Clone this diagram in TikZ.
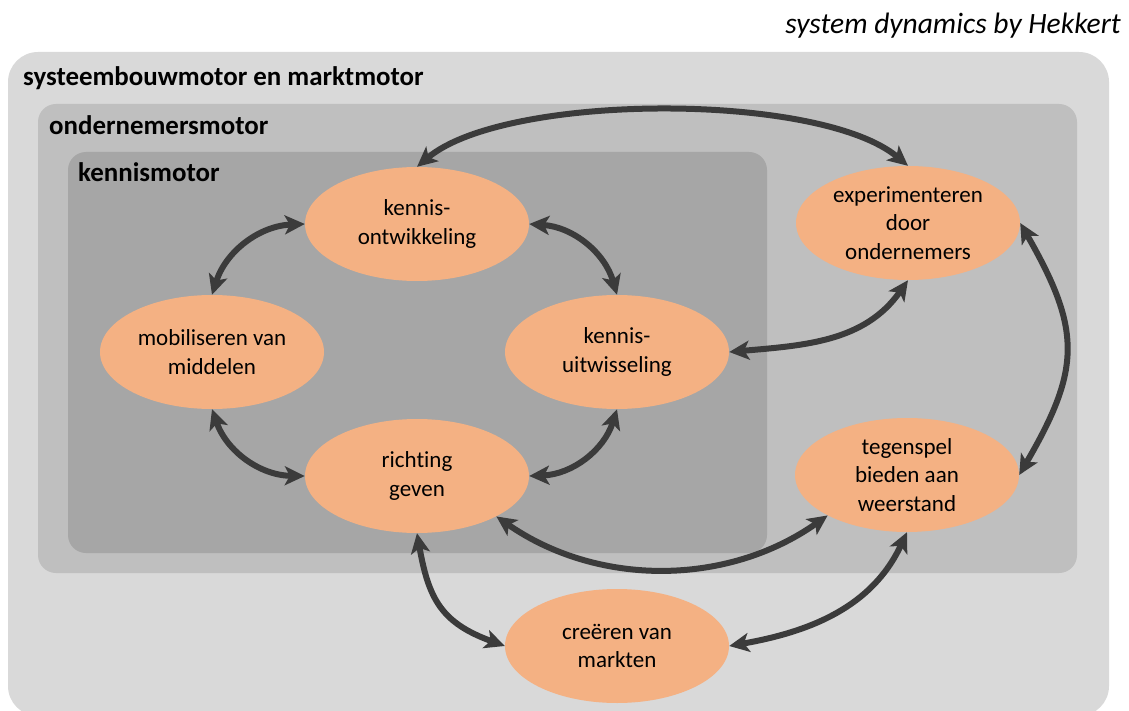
\documentclass[tikz,border=0pt]{standalone}
\usepackage{fontspec}
\setmainfont{Carlito}[Ligatures=NoCommon]
\usetikzlibrary{arrows.meta,shapes.geometric}

\definecolor{buiten}{HTML}{D9D9D9}
\definecolor{midden}{HTML}{BFBFBF}
\definecolor{binnen}{HTML}{A6A6A6}
\definecolor{oranje}{HTML}{F4B183}
\definecolor{pijlgrijs}{HTML}{3B3B3B}

\tikzset{
  functie/.style={ellipse,fill=oranje,minimum width=224pt,minimum height=114pt,inner sep=0pt,align=center,font=\fontsize{23}{28.5}\selectfont},
  koppeling/.style={draw=pijlgrijs,line width=6pt,>={Stealth[length=20pt,width=19pt,inset=5pt]},<->},
  motorlabel/.style={anchor=base west,inner sep=0pt,font=\fontsize{26.9}{30}\selectfont\bfseries}
}

\begin{document}
\begin{tikzpicture}[x=1pt,y=-1pt]
\useasboundingbox (0,0) rectangle (1129,711);

\fill[buiten,rounded corners=30pt] (8,52) rectangle (1109,716);
\fill[midden,rounded corners=18pt] (38,104) rectangle (1077,573);
\fill[binnen,rounded corners=18pt] (68,152) rectangle (767,553);

\node[motorlabel] (lsys) at (23,86) {systeembouwmotor en marktmotor};
\node[motorlabel] (lond) at (49,135) {ondernemersmotor};
\node[motorlabel] (lken) at (78,182) {kennismotor};
\node[anchor=base east,inner sep=0pt,font=\fontsize{29.5}{32}\selectfont\itshape] (titel) at (1121,34) {system dynamics by Hekkert};

\foreach \naam/\x/\y/\tekst in {ko/417/224/{kennis-\\ontwikkeling},
    mob/212/352/{mobiliseren van\\middelen},
    uitw/617/352/{kennis-\\uitwisseling},
    rg/417/476/{richting\\geven},
    exp/908/223/{experimenteren\\door\\ondernemers},
    tegen/907/475/{tegenspel\\bieden aan\\weerstand},
    cre/617/646/{creëren van\\markten}}
  \node[functie] (\naam) at (\x,\y) {\tekst};

\draw[koppeling] (mob.north) to[bend left=35] (ko.west);
\draw[koppeling] (ko.east) to[bend left=35] (uitw.north);
\draw[koppeling] (rg.west) to[bend left=35] (mob.south);
\draw[koppeling] (uitw.south) to[bend left=35] (rg.east);

\draw[koppeling] (ko.north) to[bend left=40,looseness=0.6] (exp.north);
\draw[koppeling] (uitw.east) to[out=5,in=-125] (exp.south);
\draw[koppeling] (exp.east) to[bend left=30,looseness=1.25] (tegen.east);
\draw[koppeling] (rg.-27) to[bend right=35,looseness=0.95] (tegen.207);
\draw[koppeling] (rg.south) to[out=-80,in=160,looseness=1.2] (cre.west);
\draw[koppeling] (cre.east) to[out=10,in=-115] (tegen.south);

\end{tikzpicture}
\end{document}
